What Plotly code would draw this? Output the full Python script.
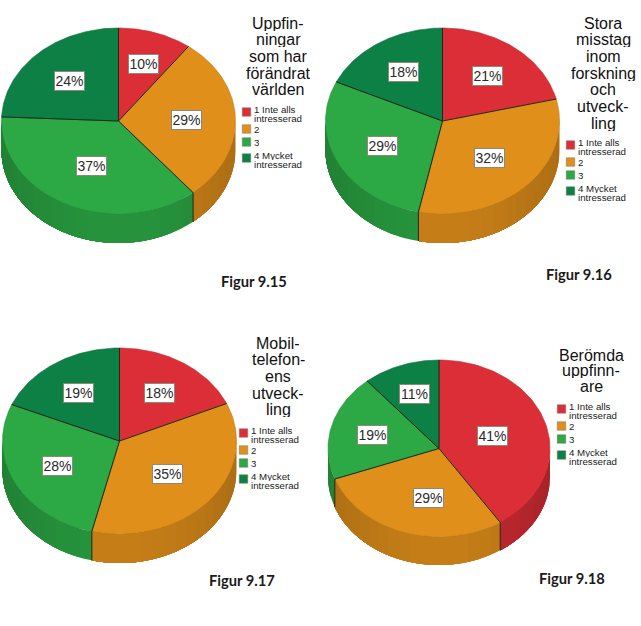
import numpy as np
import plotly.graph_objects as go

# ---- data ----
categories = ["1 Inte alls intresserad", "2", "3", "4 Mycket intresserad"]
legend_lines = [["1 Inte alls", "intresserad"], ["2"], ["3"], ["4 Mycket", "intresserad"]]
colors = ["#DC2E36", "#E08F1B", "#2CA845", "#0C8045"]

values_915 = [10.2, 28.8, 36.7, 24.3]
values_916 = [21.2, 32.1, 28.6, 18.1]
values_917 = [18.4, 35.4, 27.6, 18.6]
values_918 = [40.7, 28.7, 19.4, 11.2]

title_915 = ["Uppfin-", "ningar", "som har", "förändrat", "världen"]
title_916 = ["Stora", "misstag", "inom", "forskning", "och", "utveck-", "ling"]
title_917 = ["Mobil-", "telefon-", "ens", "utveck-", "ling"]
title_918 = ["Berömda", "uppfinn-", "are"]

caption_915 = "Figur 9.15"
caption_916 = "Figur 9.16"
caption_917 = "Figur 9.17"
caption_918 = "Figur 9.18"

# ---- layout of each panel (pixel-space axes) ----
panels = [
    dict(vals=values_915, title=title_915, cap=caption_915, cx=118.5, cy=121, rx=117, ry=93, d=29,
         lab=[(143, 64), (186, 120), (91, 166), (69, 81)],
         tx=278, ty=23, step=16.7, lx=242, ly=0, capx=254, capy=281),
    dict(vals=values_916, title=title_916, cap=caption_916, cx=442.5, cy=121, rx=117, ry=93, d=29,
         lab=[(487, 76), (489, 158), (382, 146), (403, 72)],
         tx=603, ty=23, step=16.7, lx=566, ly=33, capx=579, capy=274),
    dict(vals=values_917, title=title_917, cap=caption_917, cx=119.5, cy=441, rx=117, ry=93, d=29,
         lab=[(159, 393), (167, 474), (57, 466), (78, 393)],
         tx=278, ty=343, step=16.7, lx=239, ly=321, capx=242, capy=580),
    dict(vals=values_918, title=title_918, cap=caption_918, cx=439, cy=448.5, rx=111, ry=88.5, d=28,
         lab=[(492, 436), (428, 498), (372, 435), (414, 394)],
         tx=591, ty=355, step=15.8, lx=557, ly=297, capx=572, capy=578),
]


def shade(hex_color, f):
    r, g, b = (int(hex_color[i:i + 2], 16) for i in (1, 3, 5))
    return f"rgb({int(r * f)},{int(g * f)},{int(b * f)})"


fig = go.Figure()
annotations = []


def add_text(x, y, text, size, family="Liberation Sans", color="#111111", **kw):
    annotations.append(dict(x=x, y=y, xref="x", yref="y", text=text, showarrow=False,
                            font=dict(family=family, size=size, color=color), **kw))


for p in panels:
    cx, cy, rx, ry, d = p["cx"], p["cy"], p["rx"], p["ry"], p["d"]
    edges = np.concatenate([[0], np.cumsum(p["vals"])]) / sum(p["vals"]) * 2 * np.pi
    px = lambda t: cx + rx * np.sin(t)
    py = lambda t: cy - ry * np.cos(t)

    # side wall, overlapping strips painted in order so no seams show
    for i, col in enumerate(colors):
        a0, a1 = max(edges[i], np.pi / 2), min(edges[i + 1], 3 * np.pi / 2)
        if a1 <= a0:
            continue
        n = max(1, int((a1 - a0) / np.radians(6)))
        ts = np.linspace(a0, a1, n + 1)
        for t0 in ts[:-1]:
            tm = t0 + (ts[1] - ts[0]) / 2
            f = 0.88 - 0.11 * np.abs(np.sin(tm)) ** 2
            arc = np.linspace(t0, a1, 40)
            xs = np.concatenate([px(arc), px(arc[::-1])])
            ys = np.concatenate([py(arc), py(arc[::-1]) + d])
            fig.add_trace(go.Scatter(x=xs, y=ys, mode="none", fill="toself",
                                     fillcolor=shade(col, f),
                                     hoverinfo="skip", showlegend=False))

    # top face
    for i, col in enumerate(colors):
        arc = np.linspace(edges[i], edges[i + 1], 80)
        xs = np.concatenate([[cx], px(arc), [cx]])
        ys = np.concatenate([[cy], py(arc), [cy]])
        fig.add_trace(go.Scatter(x=xs, y=ys, mode="lines", fill="toself", fillcolor=col,
                                 line=dict(color=shade(col, 0.85), width=0.6),
                                 name=categories[i], text=f"{p['vals'][i]:.0f}%", hoverinfo="name+text",
                                 showlegend=False))

    # spokes and the vertical edges where a boundary falls on the front
    sx, sy = [], []
    for e in edges[:-1]:
        sx += [cx, float(px(e)), None]
        sy += [cy, float(py(e)), None]
        if np.pi / 2 < e < 3 * np.pi / 2:
            sx += [float(px(e)), float(px(e)), None]
            sy += [float(py(e)), float(py(e)) + d, None]
    fig.add_trace(go.Scatter(x=sx, y=sy, mode="lines", line=dict(color="#20281a", width=1),
                             hoverinfo="skip", showlegend=False))

    # percentage labels
    for (lx, ly), v in zip(p["lab"], p["vals"]):
        add_text(lx, ly, f"{v:.0f}%", 14, bgcolor="#ffffff", bordercolor="#8a8a7a", borderwidth=1,
                 width=29, height=18, borderpad=0, color="#2a2a2a")

    # chart title
    for k, line in enumerate(p["title"]):
        add_text(p["tx"], p["ty"] + k * p["step"], line, 16, color="#111111", height=15)

    # legend
    offs = [112, 129, 142, 158]
    for (off, lines), col in zip(zip(offs, legend_lines), colors):
        sy0 = off + p["ly"]
        fig.add_trace(go.Scatter(x=[p["lx"] + 4.5], y=[sy0], mode="markers",
                                 marker=dict(symbol="square", size=8.5, color=col,
                                             line=dict(color="#777777", width=0.5)),
                                 hoverinfo="skip", showlegend=False))
        y0 = sy0 - 3 if len(lines) == 2 else sy0
        for k, line in enumerate(lines):
            add_text(p["lx"] + 10, y0 + k * 9.6, line, 9.7, xanchor="left", color="#222222", height=9)

    # figure caption
    add_text(p["capx"], p["capy"], f"<b>{p['cap']}</b>", 14.7, family="Lato", color="#1a1a1a")

fig.update_layout(
    width=641, height=626, margin=dict(l=0, r=0, t=0, b=0),
    paper_bgcolor="#ffffff", plot_bgcolor="#ffffff", showlegend=False,
    xaxis=dict(range=[0, 641], visible=False, fixedrange=True),
    yaxis=dict(range=[626, 0], visible=False, fixedrange=True),
    annotations=annotations,
)
fig.write_html("out.html", post_script="document.body.style.margin='0';",
               config=dict(displayModeBar=False))
